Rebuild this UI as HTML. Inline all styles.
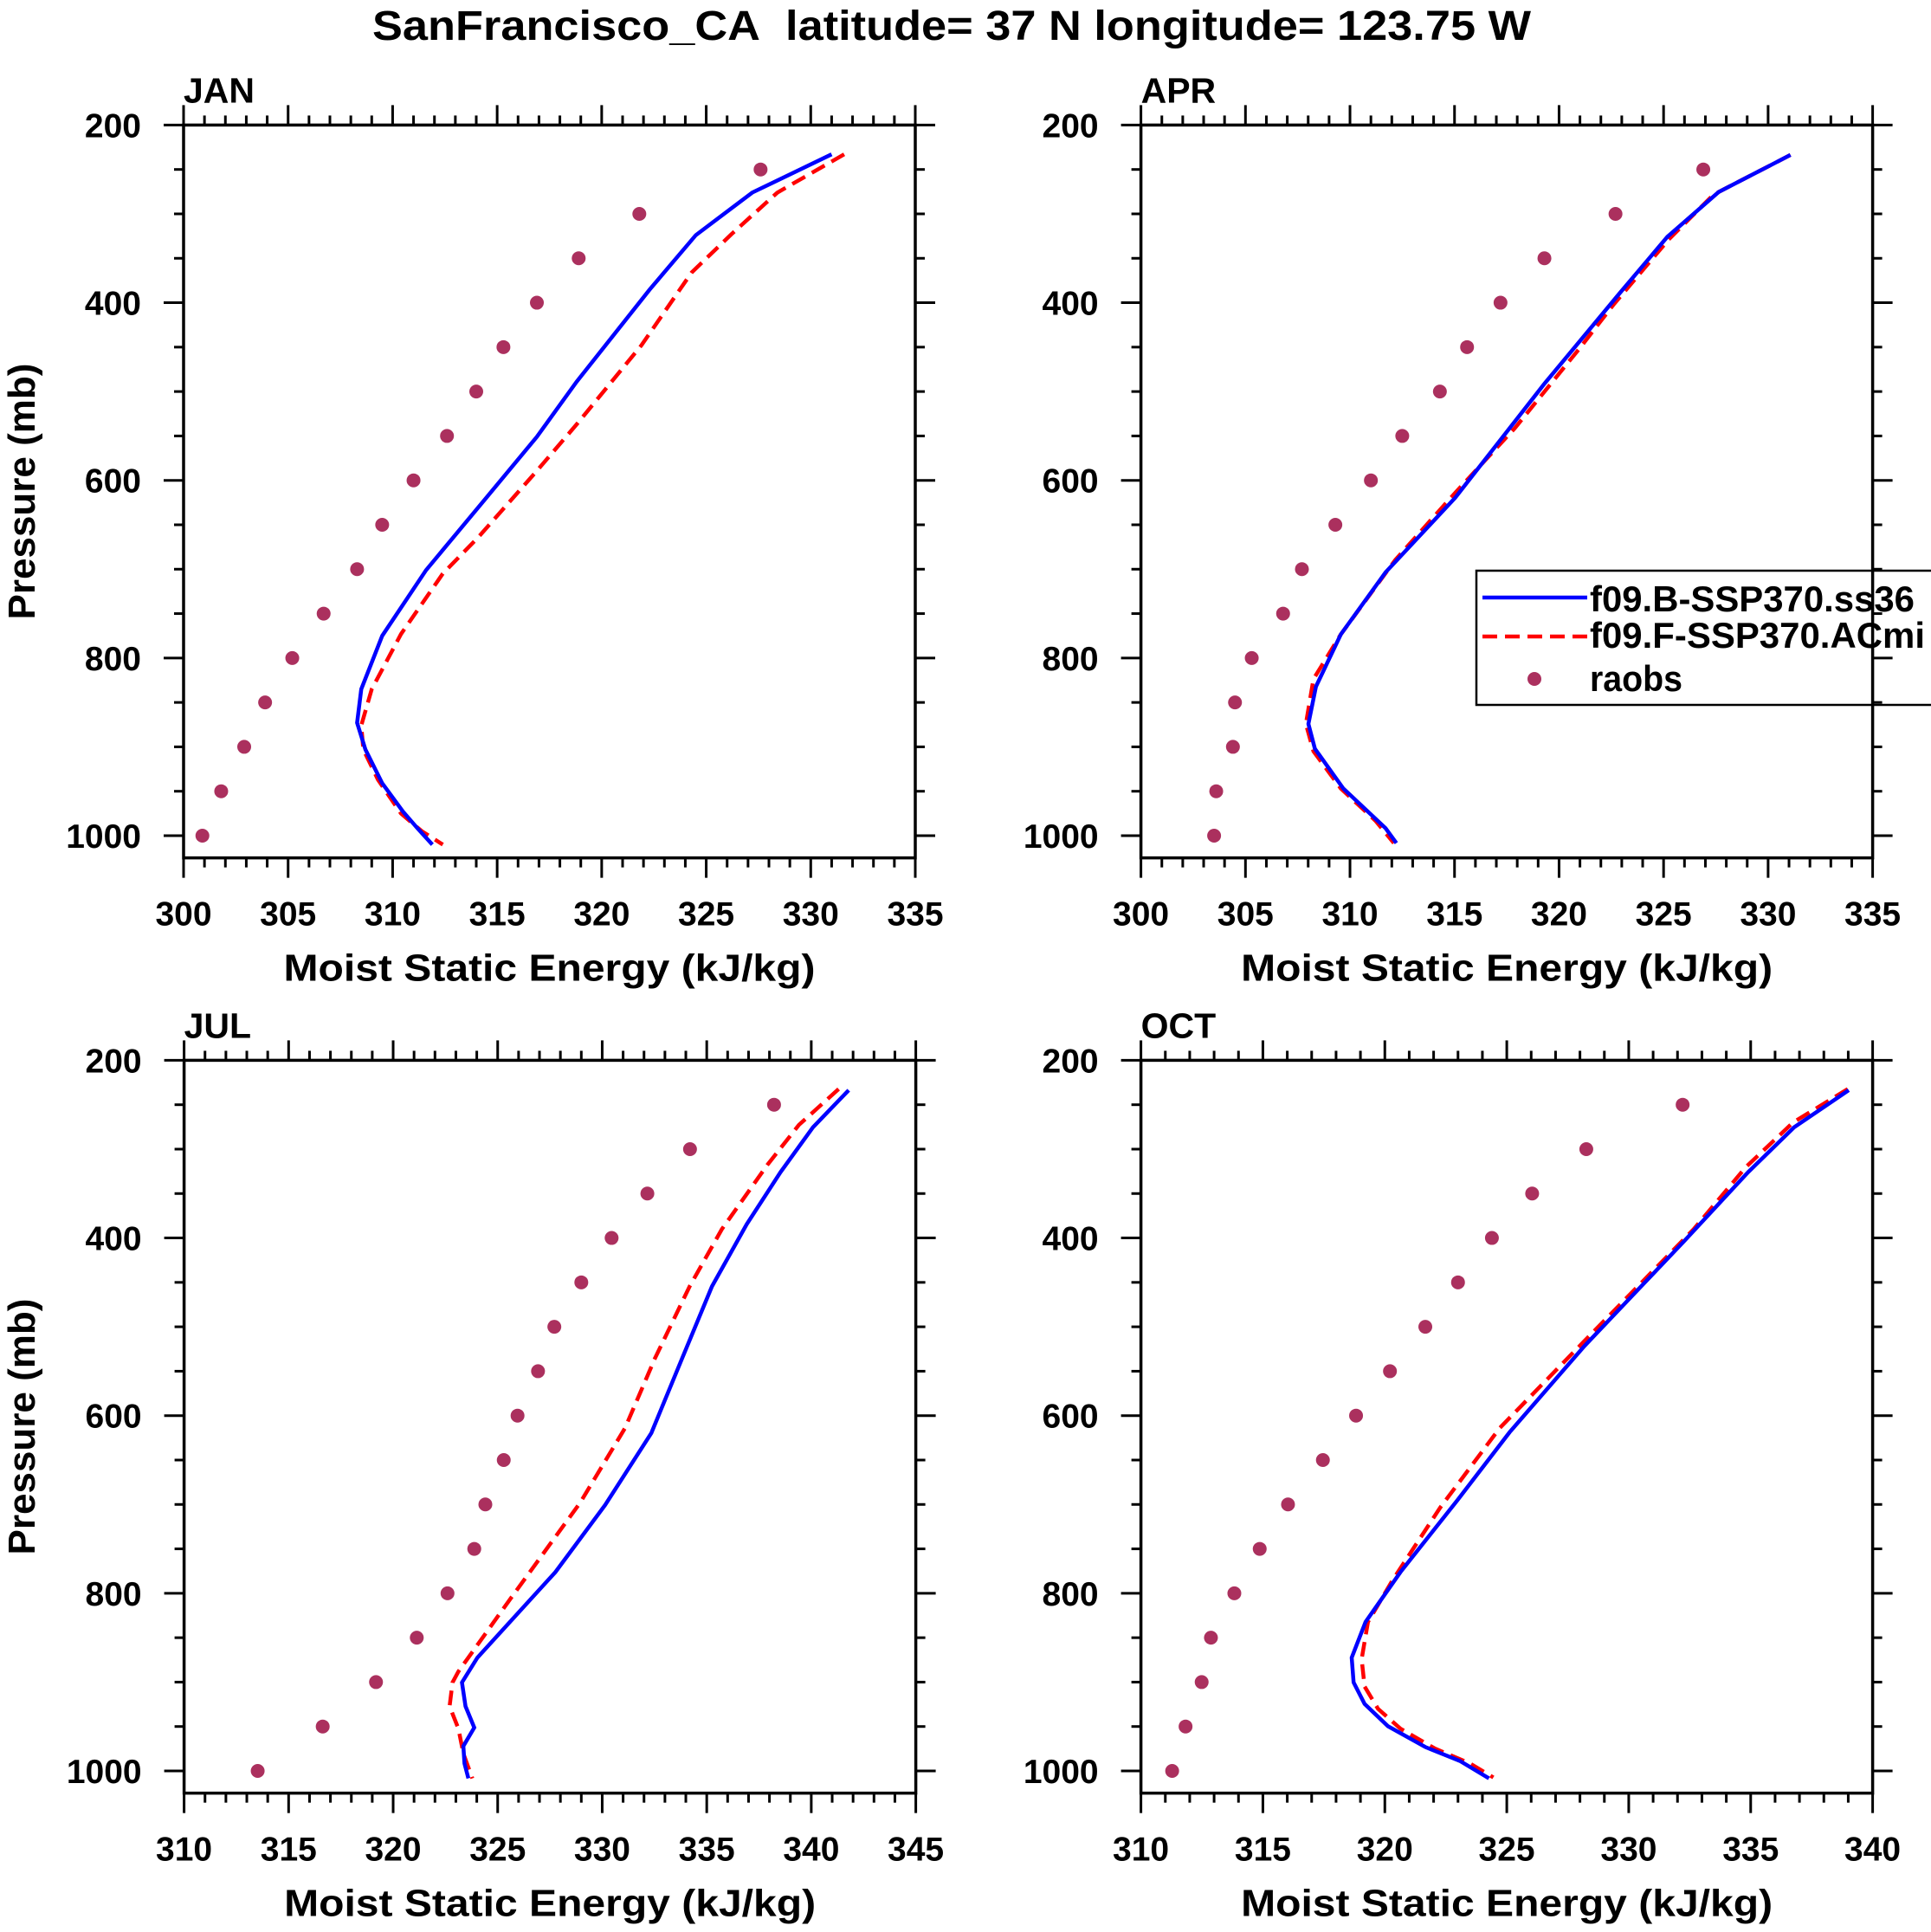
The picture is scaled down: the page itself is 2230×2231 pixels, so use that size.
<!DOCTYPE html>
<html><head><meta charset="utf-8"><style>
html,body{margin:0;padding:0;background:#fff}
svg{display:block}
text{font-family:"Liberation Sans",sans-serif;font-weight:bold;fill:#000}
</style></head><body>
<svg id="fig" width="2230" height="2231" viewBox="0 0 2230 2231" xmlns="http://www.w3.org/2000/svg">
<text x="1099" y="46" font-size="48" text-anchor="middle" textLength="1338" lengthAdjust="spacingAndGlyphs">SanFrancisco_CA&#160; latitude= 37 N longitude= 123.75 W</text>
</svg>
<script>
// ---- data ----
const obsP = [250,300,350,400,450,500,550,600,650,700,750,800,850,900,950,1000];
const janObs = [327.6,321.8,318.9,316.9,315.3,314.0,312.6,311.0,309.5,308.3,306.7,305.2,303.9,302.9,301.8,300.9];
const janBP = [233,276,324,385,489,551,619,701,775,835,873,903,941,973,992,1010];
const janBE = [331.0,327.2,324.5,322.3,318.8,316.9,314.5,311.6,309.5,308.5,308.3,308.7,309.5,310.5,311.2,311.9];
const janFP = [233,276,323,366,448,537,592,664,705,773,835,876,903,937,975,995,1010];
const janFE = [331.6,328.4,326.2,324.3,321.9,318.8,316.8,314.1,312.4,310.4,309.0,308.5,308.6,309.3,310.4,311.4,312.4];

const aprObs = [326.9,322.7,319.3,317.2,315.6,314.3,312.5,311.0,309.3,307.7,306.8,305.3,304.5,304.4,303.6,303.5];
const aprBP = [233.6,275.5,325.9,390.2,490.9,619.6,703.5,773.4,832.2,874.1,902.1,946.9,991.6,1008.4];
const aprBE = [331.07,327.63,325.18,322.87,319.31,315.03,311.70,309.56,308.37,308.01,308.32,309.68,311.70,312.22];
const aprFP = [233.6,278.3,328.7,401.4,451.7,541.3,614,689.5,773.4,823.8,874.1,904.9,946.9,983.2,1008.4];
const aprFE = [331.07,327.39,325.25,322.63,320.97,317.88,315.03,312.17,309.56,308.25,307.89,308.25,309.56,311.22,312.1];

const julObs = [338.22,334.20,332.16,330.45,329.0,327.71,326.93,325.95,325.29,324.41,323.88,322.60,321.13,319.18,316.63,313.52];
const julBP = [233.6,275.5,325.9,384.6,454.5,535.7,619.6,700.7,776.2,872.5,900.4,927.3,951.3,972,991.6,1008.4];
const julBE = [341.79,340.08,338.53,336.91,335.25,333.82,332.35,330.14,327.76,324.03,323.29,323.46,323.88,323.36,323.41,323.6];
const julFP = [232.4,272.7,317.5,390.2,454.5,535.7,614,697.9,809.8,888.1,900.4,927.3,952.4,980.4,1008.4];
const julFE = [341.31,339.41,337.91,335.72,334.18,332.52,331.09,328.95,325.5,323.12,322.84,322.70,323.12,323.36,323.79];

const octObs = [332.21,328.26,326.04,324.39,323.0,321.66,320.21,318.82,317.46,316.03,314.87,313.83,312.87,312.49,311.83,311.28];
const octBP = [233.6,275.5,325.9,404.2,521.7,618.5,695.1,776.2,832.2,872.5,900.4,924.5,949.7,973.1,988.8,1008.4];
const octBE = [339.02,336.78,334.9,332.25,328.18,325.12,322.98,320.64,319.21,318.64,318.72,319.17,320.13,321.66,323.08,324.27];
const octFP = [232.4,269.9,320.3,390.2,516.1,614,703.5,784.6,832.2,874.1,904.9,930.1,952.4,974.8,991.6,1007.3];
const octFE = [338.98,336.74,334.8,332.66,328.18,324.71,322.27,320.33,319.31,319.05,319.17,319.72,320.64,322.06,323.49,324.45];

const janXTicks = [300,305,310,315,320,325,330,335];
const julXTicks = [310,315,320,325,330,335,340,345];
const octXTicks = [310,315,320,325,330,335,340];
const yTicks = [200,400,600,800,1000];

// ---- drawing ----
const NS = "http://www.w3.org/2000/svg";
const svg = document.getElementById('fig');
function mk(tag, attrs, parent){
  const e = document.createElementNS(NS, tag);
  for (const k in attrs) e.setAttribute(k, attrs[k]);
  (parent||svg).appendChild(e);
  return e;
}
const W = 845, PTOP = 200, PBOT = 1025, PXS = 1.02575;

function panel(name, left, top, xmin, xmax, xticks, obs, bP, bE, fP, fE){
  const g = mk('g', {});
  
  
  const H = (PBOT - PTOP) * PXS;
  const sx = v => left + (v - xmin) / (xmax - xmin) * W;
  const sy = p => top + (p - PTOP) * PXS;
  const lab = mk('text', {x: left, y: top - 26, 'font-size': 41}, g);
  lab.textContent = name.toUpperCase();
  
  
  const pts = (P, E) => P.map((p, i) => sx(E[i]).toFixed(1) + ',' + sy(p).toFixed(1)).join(' ');
  const lf = mk('polyline', {points: pts(fP, fE), fill: 'none', stroke: '#ff0000', 'stroke-width': 4.5, 'stroke-dasharray': '17 9'}, g);
  
  
  const lb = mk('polyline', {points: pts(bP, bE), fill: 'none', stroke: '#0000ff', 'stroke-width': 4.5}, g);
  
  
  obs.forEach((v, i) => {
    const c = mk('circle', {cx: sx(v), cy: sy(obsP[i]), r: 8, fill: '#ab305e'}, g);
    
    
  });
  const fr = mk('rect', {x: left, y: top, width: W, height: H, fill: 'none', stroke: '#000', 'stroke-width': 3.5}, g);
  
  
  for (let v = xmin; v <= xmax + 1e-9; v += 1) {
    const major = (v - xmin) % 5 === 0;
    const L = major ? 23 : 11;
    const x = sx(v);
    mk('line', {x1: x, x2: x, y1: top + H, y2: top + H + L, stroke: '#000', 'stroke-width': 3}, g);
    mk('line', {x1: x, x2: x, y1: top, y2: top - L, stroke: '#000', 'stroke-width': 3}, g);
  }
  xticks.forEach(v => {
    const t = mk('text', {x: sx(v), y: top + H + 78, 'font-size': 39, 'text-anchor': 'middle'}, g);
    t.textContent = v;
    
    
  });
  for (let p = PTOP; p <= 1000; p += 50) {
    const major = p % 200 === 0;
    const L = major ? 23 : 11;
    const y = sy(p);
    mk('line', {x1: left, x2: left - L, y1: y, y2: y, stroke: '#000', 'stroke-width': 3}, g);
    mk('line', {x1: left + W, x2: left + W + L, y1: y, y2: y, stroke: '#000', 'stroke-width': 3}, g);
  }
  yTicks.forEach(p => {
    const t = mk('text', {x: left - 49, y: sy(p) + 14, 'font-size': 39, 'text-anchor': 'end'}, g);
    t.textContent = p;
    
    
  });
  const xt = mk('text', {x: left + W / 2, y: top + H + 142, 'font-size': 44, 'text-anchor': 'middle', textLength: 614, lengthAdjust: 'spacingAndGlyphs'}, g);
  xt.textContent = 'Moist Static Energy (kJ/kg)';
  
  
  if (left < 1000) {
    const cy = top + H / 2;
    const yt = mk('text', {x: 0, y: 0, 'font-size': 44, 'text-anchor': 'middle', transform: 'translate(40,' + cy + ') rotate(-90)'}, g);
    yt.textContent = 'Pressure (mb)';
    
    
  }
}

panel('jan', 212, 144.4, 300, 335, janXTicks, janObs, janBP, janBE, janFP, janFE);
panel('apr', 1317.6, 144.4, 300, 335, janXTicks, aprObs, aprBP, aprBE, aprFP, aprFE);
panel('jul', 212.6, 1224.4, 310, 345, julXTicks, julObs, julBP, julBE, julFP, julFE);
panel('oct', 1317.6, 1224.4, 310, 340, octXTicks, octObs, octBP, octBE, octFP, octFE);

const lg = mk('g', {});


mk('rect', {x: 1705, y: 659, width: 560, height: 155, fill: 'none', stroke: '#000', 'stroke-width': 2.5}, lg);
const l1 = mk('line', {x1: 1712, x2: 1833, y1: 690, y2: 690, stroke: '#0000ff', 'stroke-width': 4.5}, lg);


const l2 = mk('line', {x1: 1712, x2: 1833, y1: 735, y2: 735, stroke: '#ff0000', 'stroke-width': 4.5, 'stroke-dasharray': '17 9'}, lg);


const l3 = mk('circle', {cx: 1772, cy: 784, r: 8, fill: '#ab305e'}, lg);


const t1 = mk('text', {x: 1836, y: 706, 'font-size': 42, textLength: 375, lengthAdjust: 'spacingAndGlyphs'}, lg);
t1.textContent = 'f09.B-SSP370.ss36';


const t2 = mk('text', {x: 1836, y: 748, 'font-size': 42, textLength: 387, lengthAdjust: 'spacingAndGlyphs'}, lg);
t2.textContent = 'f09.F-SSP370.ACmi';


const t3 = mk('text', {x: 1836, y: 798, 'font-size': 42, textLength: 107, lengthAdjust: 'spacingAndGlyphs'}, lg);
t3.textContent = 'raobs';


</script>
</body></html>
